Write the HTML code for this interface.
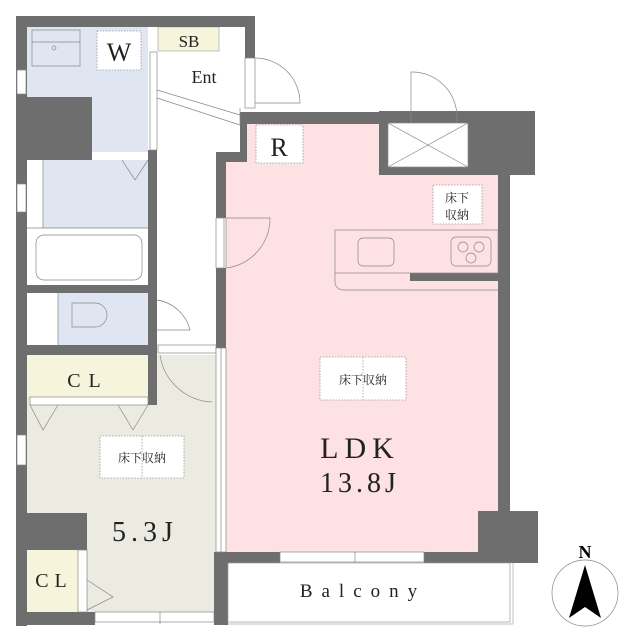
<!DOCTYPE html>
<html><head><meta charset="utf-8"><style>body{margin:0;background:#fff}svg{display:block}</style></head><body>
<svg width="630" height="640" viewBox="0 0 630 640" xmlns="http://www.w3.org/2000/svg" font-family="'Liberation Serif','Noto Serif CJK SC',serif">
<!-- floors -->
<rect x="247" y="124" width="251" height="428" fill="#fde1e3"/>
<rect x="226" y="162" width="272" height="390" fill="#fde1e3"/>
<rect x="27" y="355" width="189" height="257" fill="#ecebe2"/>
<rect x="27" y="27" width="121" height="70" fill="#dfe6f2"/>
<rect x="92" y="97" width="56" height="55" fill="#dfe6f2"/>
<rect x="43" y="160" width="105" height="68" fill="#dfe6f2"/>
<rect x="58" y="293" width="90" height="52" fill="#dfe6f2"/>
<rect x="27" y="355" width="121" height="42" fill="#f7f4dc"/>
<rect x="27" y="550" width="51" height="62" fill="#f7f4dc"/>
<rect x="158" y="27" width="61" height="24" fill="#f7f4dc" stroke="#999" stroke-width="0.6"/>
<!-- walls -->
<g fill="#6e6e6e">
<rect x="16" y="16" width="239" height="11"/>
<rect x="16" y="16" width="11" height="610"/>
<rect x="245" y="16" width="10" height="42"/>
<rect x="240" y="112" width="140" height="12"/>
<rect x="240" y="112" width="7" height="50"/>
<rect x="216" y="152" width="31" height="10"/>
<rect x="216" y="152" width="10" height="66"/>
<rect x="216" y="268" width="10" height="80"/>
<rect x="379" y="111" width="156" height="64"/>
<rect x="498" y="170" width="12" height="390"/>
<rect x="478" y="511" width="60" height="52"/>
<rect x="424" y="552" width="114" height="11"/>
<rect x="216" y="552" width="64" height="11"/>
<rect x="214" y="552" width="14" height="73"/>
<rect x="16" y="97" width="76" height="63"/>
<rect x="148" y="150" width="9" height="143"/>
<rect x="16" y="285" width="141" height="8"/>
<rect x="148" y="285" width="9" height="120"/>
<rect x="16" y="345" width="141" height="10"/>
<rect x="16" y="513" width="71" height="37"/>
<rect x="16" y="612" width="79" height="13"/>
<rect x="410" y="273" width="88" height="8"/>
</g>
<g fill="#fff" stroke="#888" stroke-width="0.7">
<rect x="17" y="70" width="9" height="24"/>
<rect x="17" y="184" width="9" height="28"/>
<rect x="17" y="435" width="9" height="30"/>
<rect x="95" y="612" width="119" height="10"/>
<rect x="280" y="552" width="144" height="10"/>
<rect x="216" y="218" width="8" height="50"/>
<rect x="245" y="58" width="10" height="50"/>
<rect x="388" y="123" width="80" height="44"/>
<rect x="150" y="52" width="7" height="98"/>
<rect x="158" y="345" width="58" height="8"/>
<rect x="30" y="397" width="118" height="8"/>
<rect x="78" y="550" width="9" height="62"/>
<rect x="216" y="348" width="10" height="204"/>
</g>
<g stroke="#888" stroke-width="0.7" fill="none">
<line x1="388" y1="123" x2="468" y2="167"/><line x1="468" y1="123" x2="388" y2="167"/>
<line x1="221" y1="348" x2="221" y2="552"/>
<line x1="355" y1="552" x2="355" y2="562"/><line x1="160" y1="612" x2="160" y2="624"/>
<path d="M255 58 A45 45 0 0 1 300 103 L255 103"/>
<path d="M411 123 V72 A45 45 0 0 1 457 118 V123"/>
<path d="M226 268 V218 H270 A50 50 0 0 1 226 268"/>
<path d="M160 355 A55 55 0 0 0 212 402"/>
<path d="M157 300 A40 40 0 0 1 190 330 L157 330"/>
<path d="M157 90 L240 115 M157 98 L240 125"/>
<line x1="240" y1="108" x2="240" y2="124"/>
<path d="M122 160 L135 180 L148 160"/>
<path d="M30 405 L43 430 L58 405 M118 405 L133 430 L148 405"/>
<path d="M87 580 L113 597 L87 610"/>
<rect x="32" y="30" width="48" height="36"/><line x1="32" y1="42" x2="80" y2="42"/>
<circle cx="54" cy="48" r="2"/>
<line x1="43" y1="160" x2="43" y2="228"/><line x1="27" y1="228" x2="148" y2="228"/>
<rect x="36" y="235" width="106" height="45" rx="8"/>
<line x1="58" y1="293" x2="58" y2="345"/>
<path d="M72 303 H95 A12 12 0 0 1 95 327 H72 Z"/>
<rect x="335" y="230" width="163" height="43"/>
<path d="M335 273 V282 A8 8 0 0 0 343 290 H498"/>
<rect x="358" y="238" width="36" height="28" rx="5"/>
<rect x="451" y="237" width="40" height="29" rx="5"/>
<circle cx="463" cy="247" r="5"/><circle cx="479" cy="247" r="5"/><circle cx="471" cy="258" r="5"/>
<rect x="228" y="563" width="282" height="59" stroke="#999"/>
<line x1="228" y1="624" x2="513" y2="624" stroke="#aaa"/><line x1="513" y1="563" x2="513" y2="624" stroke="#aaa"/>
<circle cx="585" cy="593" r="33"/>
</g>
<path d="M585 565 L569 618 L585 607 L601 618 Z" fill="#000"/>
<text x="585" y="558" text-anchor="middle" font-size="18" font-weight="bold">N</text>
<g fill="#fff" stroke="#999" stroke-width="0.8" stroke-dasharray="1.5,1.5">
<rect x="97" y="31" width="44" height="39"/>
<rect x="256" y="125" width="47" height="38"/>
<rect x="433" y="185" width="49" height="39"/>
<rect x="320" y="357" width="86" height="43"/>
<rect x="100" y="436" width="84" height="42"/>
<line x1="363" y1="357" x2="363" y2="400"/><line x1="142" y1="436" x2="142" y2="478"/>
</g>
<g fill="#222" text-anchor="middle">
<text x="119" y="61" font-size="26">W</text>
<text x="189" y="47" font-size="17">SB</text>
<text x="204" y="83" font-size="18">Ent</text>
<text x="279" y="156" font-size="26">R</text>
<text x="457" y="202" font-size="12">床下</text>
<text x="457" y="219" font-size="12">収納</text>
<text x="363" y="384" font-size="12">床下収納</text>
<text x="142" y="462" font-size="12">床下収納</text>
<text x="360" y="458" font-size="30" letter-spacing="6">LDK</text>
<text x="360" y="492" font-size="28" letter-spacing="4">13.8J</text>
<text x="145" y="541" font-size="28" letter-spacing="5">5.3J</text>
<text x="88" y="387" font-size="20" letter-spacing="8">CL</text>
<text x="54" y="587" font-size="20" letter-spacing="6">CL</text>
<text x="363" y="597" font-size="19" letter-spacing="9">Balcony</text>
</g>
</svg>
</body></html>
